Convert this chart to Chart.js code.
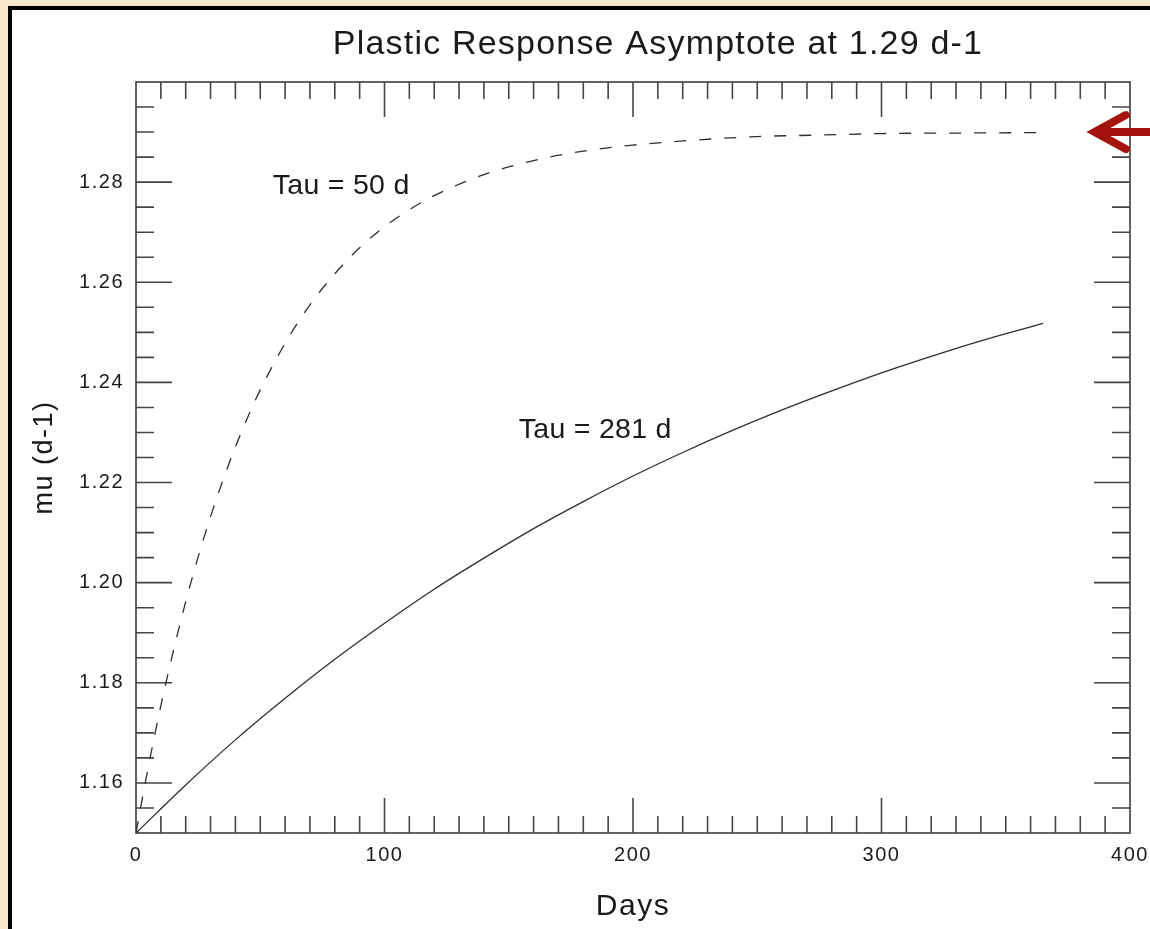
<!DOCTYPE html>
<html>
<head>
<meta charset="utf-8">
<script src="https://cdn.jsdelivr.net/npm/chart.js@4.4.1/dist/chart.umd.min.js"></script>
<style>
  html, body { margin: 0; padding: 0; background: #f6e9cb; overflow: hidden; }
  #frame { position: absolute; left: 8px; top: 6px; width: 1200px; height: 1000px; background: #ffffff; border: 4px solid #000000; }
  #wrap { position: absolute; left: 0; top: 0; width: 1150px; height: 929px; }
</style>
</head>
<body>
<div id="frame"></div>
<div id="wrap"><canvas id="chart" width="1150" height="929"></canvas></div>
<script>
// Growth rate mu (d-1) approaching the 1.29 d-1 plateau for two response times
const daysFast = [0, 2.5, 5, 7.5, 10, 12.5, 15, 20, 25, 30, 35, 40, 45, 50, 60, 70, 80, 90, 100, 110, 120, 140, 160, 180, 200, 225, 250, 275, 300, 330, 365];
const muFast   = [1.1500, 1.1568, 1.1633, 1.1695, 1.1754, 1.1810, 1.1863, 1.1962, 1.2051, 1.2132, 1.2205, 1.2271, 1.2331, 1.2385, 1.2478, 1.2555, 1.2617, 1.2669, 1.2711, 1.2745, 1.2773, 1.2815, 1.2843, 1.2862, 1.2874, 1.2884, 1.2891, 1.2894, 1.2897, 1.2898, 1.2899];

const daysSlow = [0, 20, 40, 60, 80, 100, 120, 140, 160, 180, 200, 220, 240, 260, 280, 300, 320, 340, 365];
const muSlow   = [1.1500, 1.1596, 1.1686, 1.1769, 1.1847, 1.1919, 1.1987, 1.2049, 1.2108, 1.2162, 1.2213, 1.2260, 1.2304, 1.2345, 1.2383, 1.2419, 1.2452, 1.2483, 1.2518];

const asymptote = 1.29;
const arrowDay = 385;

const xTickLabels = [0, 100, 200, 300, 400];
const yTickLabels = [1.16, 1.18, 1.20, 1.22, 1.24, 1.26, 1.28];

const titleText = 'Plastic Response Asymptote at 1.29 d-1';
const notes = [
  { text: 'Tau = 50 d',  day: 55,  mu: 1.2792 },
  { text: 'Tau = 281 d', day: 154, mu: 1.2304 }
];

const FONT = '"Liberation Sans", Arial, Helvetica, sans-serif';
const INK = '#1a1a1a';
const SPACING = '1.5px';

// Frame, inward tick marks on all four sides, notes, title and arrow
const framePlugin = {
  id: 'framePlugin',
  beforeUpdate(chart) { chart.ctx.letterSpacing = SPACING; },
  beforeDraw(chart) { chart.ctx.letterSpacing = SPACING; },
  beforeDatasetsDraw(chart) {
    const { ctx, chartArea: a, scales: { x, y } } = chart;
    ctx.save();
    ctx.strokeStyle = '#3c3c3c';
    ctx.lineWidth = 1.6;
    ctx.strokeRect(a.left, a.top, a.right - a.left, a.bottom - a.top);
    ctx.strokeStyle = '#454545';
    ctx.beginPath();
    for (let d = 10; d < 400; d += 10) {
      const px = x.getPixelForValue(d);
      const len = d % 100 === 0 ? 35 : 17;
      ctx.moveTo(px, a.bottom); ctx.lineTo(px, a.bottom - len);
      ctx.moveTo(px, a.top);    ctx.lineTo(px, a.top + len);
    }
    for (let k = 1; k < 30; k++) {
      const v = 1.15 + k * 0.005;
      const py = y.getPixelForValue(v);
      const major = yTickLabels.some(t => Math.abs(t - v) < 1e-6);
      const len = major ? 36 : 18;
      ctx.moveTo(a.left, py);  ctx.lineTo(a.left + len, py);
      ctx.moveTo(a.right, py); ctx.lineTo(a.right - len, py);
    }
    ctx.stroke();
    ctx.restore();
  },
  afterDraw(chart) {
    const { ctx, scales: { x, y } } = chart;
    ctx.save();
    ctx.fillStyle = INK;
    ctx.textBaseline = 'middle';

    ctx.letterSpacing = '1.2px';
    ctx.font = '34px ' + FONT;
    ctx.textAlign = 'center';
    ctx.fillText(titleText, 658, 45);

    ctx.letterSpacing = '0.3px';
    ctx.font = '28.5px ' + FONT;
    ctx.textAlign = 'left';
    notes.forEach(n => ctx.fillText(n.text, x.getPixelForValue(n.day), y.getPixelForValue(n.mu)));

    // marker pointing at the plateau level
    const tipX = x.getPixelForValue(arrowDay);
    const tipY = y.getPixelForValue(asymptote);
    ctx.strokeStyle = '#a3140f';
    ctx.lineWidth = 8;
    ctx.lineCap = 'round';
    ctx.lineJoin = 'miter';
    ctx.beginPath();
    ctx.moveTo(tipX + 6, tipY); ctx.lineTo(chart.width + 20, tipY);
    ctx.stroke();
    ctx.beginPath();
    ctx.moveTo(tipX + 33, tipY - 17);
    ctx.lineTo(tipX + 2, tipY);
    ctx.lineTo(tipX + 33, tipY + 17);
    ctx.stroke();
    ctx.restore();
  }
};

const toPoints = (xs, ys) => xs.map((d, i) => ({ x: d, y: ys[i] }));

new Chart(document.getElementById('chart'), {
  type: 'line',
  data: {
    datasets: [
      {
        label: 'Tau = 50 d',
        data: toPoints(daysFast, muFast),
        borderColor: '#2e2e2e',
        borderWidth: 1.3,
        borderDash: [12, 13],
        pointRadius: 0,
        cubicInterpolationMode: 'monotone',
        fill: false
      },
      {
        label: 'Tau = 281 d',
        data: toPoints(daysSlow, muSlow),
        borderColor: '#2e2e2e',
        borderWidth: 1.3,
        pointRadius: 0,
        cubicInterpolationMode: 'monotone',
        fill: false
      }
    ]
  },
  options: {
    responsive: false,
    animation: false,
    devicePixelRatio: 1,
    layout: { padding: { top: 82, right: 20, left: 0, bottom: 0 } },
    plugins: { legend: { display: false }, tooltip: { enabled: false }, title: { display: false } },
    scales: {
      x: {
        type: 'linear',
        min: 0,
        max: 400,
        afterBuildTicks: s => { s.ticks = xTickLabels.map(v => ({ value: v })); },
        afterFit: s => { s.height = 96; s.paddingLeft = 0; s.paddingRight = 0; },
        grid: { display: false, drawTicks: false },
        border: { display: false },
        ticks: { color: INK, padding: 10, maxRotation: 0, autoSkip: false, font: { family: FONT, size: 20 } },
        title: { display: true, text: 'Days', color: INK, font: { family: FONT, size: 30 }, padding: { top: 0, bottom: 4 } }
      },
      y: {
        type: 'linear',
        min: 1.15,
        max: 1.30,
        afterBuildTicks: s => { s.ticks = yTickLabels.map(v => ({ value: v })); },
        afterFit: s => { s.width = 136; s.paddingTop = 0; s.paddingBottom = 0; },
        grid: { display: false, drawTicks: false },
        border: { display: false },
        ticks: { color: INK, padding: 12, autoSkip: false, font: { family: FONT, size: 20 }, callback: v => v.toFixed(2) },
        title: { display: true, text: 'mu (d-1)', color: INK, font: { family: FONT, size: 27 }, padding: { top: 28, bottom: 0 } }
      }
    }
  },
  plugins: [framePlugin]
});
</script>
</body>
</html>
